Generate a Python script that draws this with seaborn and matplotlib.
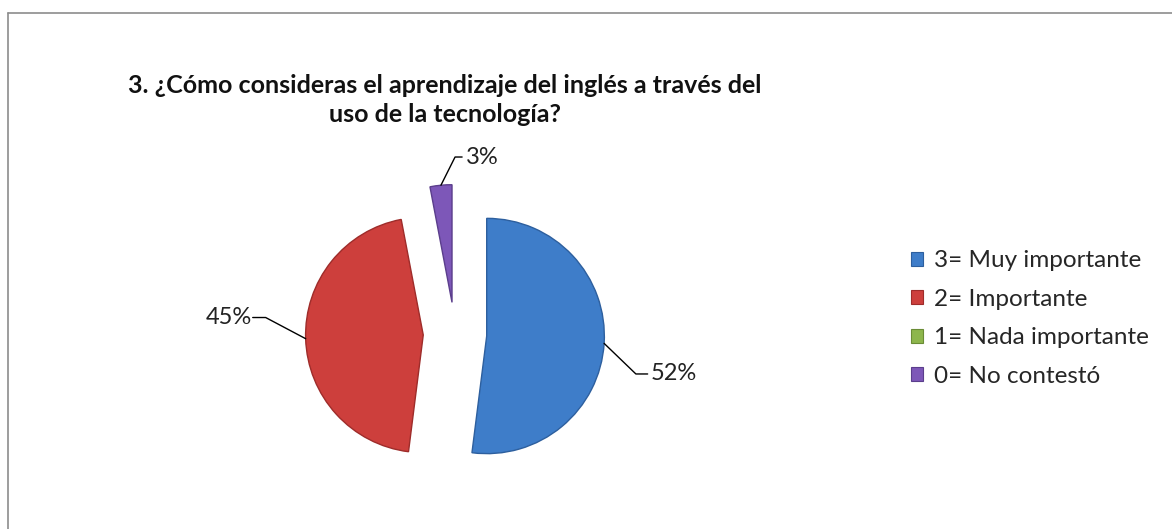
import numpy as np
import matplotlib
matplotlib.use('Agg')
import matplotlib.pyplot as plt
import matplotlib.patches as mpatches
from matplotlib.lines import Line2D
import seaborn as sns

# chart data
categories = ['3= Muy importante', '2= Importante', '1= Nada importante', '0= No contestó']
percent = [52, 45, 0, 3]
colors = ['#3E7DC9', '#CD3F3C', '#8DB64C', '#7D57B8']
edges = ['#2D5F9E', '#9E2C2A', '#6A8C36', '#5B3E8C']

TITLE = '3. ¿Cómo consideras el aprendizaje del inglés a través del\nuso de la tecnología?'

sns.set_theme(style='white')
plt.rcParams['font.family'] = ['Lato', 'DejaVu Sans']

W, H = 1172, 529
fig = plt.figure(figsize=(W / 100, H / 100), dpi=100)
fig.patch.set_facecolor('white')

# square axes of 400px centred on the pie
cx, cy, side = 455, 334, 400
ax = fig.add_axes([(cx - side / 2) / W, (H - cy - side / 2) / H, side / W, side / H])
explode = [0.27] * len(percent)
wedges, _ = ax.pie(percent, colors=colors, startangle=90, counterclock=False,
                   explode=explode, radius=1.0,
                   wedgeprops=dict(linewidth=1.0))
for w, ec, p in zip(wedges, edges, percent):
    w.set_edgecolor(ec)
    if p == 0:
        w.set_visible(False)
ax.set_xlim(-1.7, 1.7)
ax.set_ylim(-1.7, 1.7)
ax.set_aspect('equal')
ax.axis('off')

# leader line offsets (elbow dx, dy, horizontal run) per slice
leaders = {0: (0.27, -0.26, 0.10), 1: (-0.34, 0.18, -0.11), 3: (0.12, 0.24, 0.06)}
for i, w in enumerate(wedges):
    if percent[i] == 0:
        continue
    mid = np.deg2rad((w.theta1 + w.theta2) / 2)
    ox, oy = w.center
    ex, ey = ox + np.cos(mid), oy + np.sin(mid)
    dx, dy, run = leaders[i]
    bx, by = ex + dx, ey + dy
    tx = bx + run
    ax.add_line(Line2D([ex, bx, tx], [ey, by, by], color='black', lw=1.0, clip_on=False))
    ax.text(tx + (0.03 if run > 0 else -0.01), by, f'{percent[i]}%',
            ha='left' if run > 0 else 'right', va='center', fontsize=17, color='#222222')

handles = [mpatches.Patch(facecolor=c, edgecolor=e, linewidth=0.8) for c, e in zip(colors, edges)]
fig.legend(handles, categories, loc='center left', bbox_to_anchor=(911 / W, 1 - 318.5 / H),
           frameon=False, fontsize=17.5, handlelength=0.5, handleheight=0.5,
           handletextpad=0.45, labelspacing=0.72, borderpad=0, borderaxespad=0)

fig.text(445 / W, 1 - 100 / H, TITLE, ha='center', va='center', fontsize=18,
         fontweight='bold', color='#111111', linespacing=1.35)

# chart area border (top and left sides visible)
fig.add_artist(Line2D([8 / W, 1], [1 - 13 / H, 1 - 13 / H], color='#8c8c8c', lw=1.2))
fig.add_artist(Line2D([8 / W, 8 / W], [0, 1 - 13 / H], color='#8c8c8c', lw=1.2))

fig.savefig('out.png', dpi=100)
